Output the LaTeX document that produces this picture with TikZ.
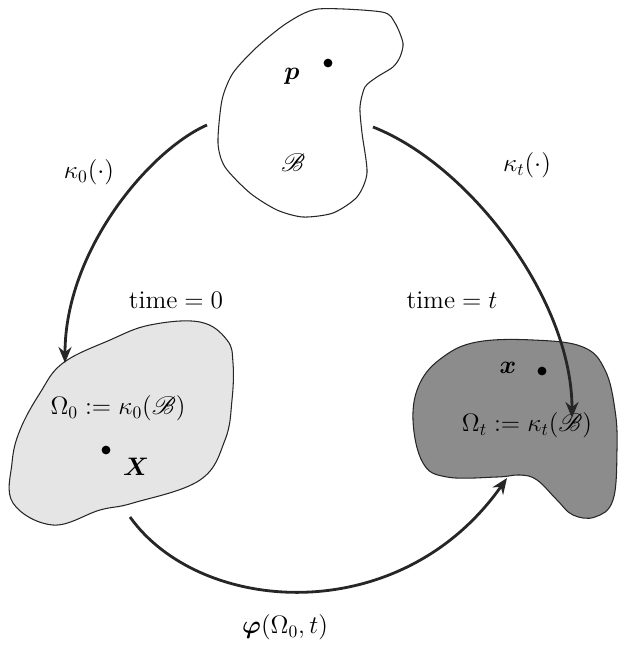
\documentclass[tikz,border=0pt]{standalone}
\usepackage{amsmath,amssymb,bm}
\usepackage{mathrsfs}
\usepackage{tikz}
\usetikzlibrary{arrows.meta}

\begin{document}
\begin{tikzpicture}[
  x=0.02cm, y=-0.02cm,
  every node/.style={font=\fontsize{14.5}{17}\selectfont},
  corpo/.style={draw=black!85, line width=0.6pt},
  mapa/.style={-{Stealth[length=3.2mm, width=2.6mm]}, line width=1.6pt, draw=black!85},
  ponto/.style={circle, fill=black, inner sep=0pt, minimum size=5pt}
]
  \useasboundingbox (0,0) rectangle (623,647);

  % corpo B
  \draw[corpo, fill=white] plot[smooth cycle, tension=0.45] coordinates {
    (318,9) (382,12) (395,23) (403,43) (400,57) (393,67) (377,77) (365,87)
    (360,107) (362,133) (367,173) (357,197) (333,213) (303,217) (277,210)
    (250,193) (225,167) (218,143) (222,100) (233,73) (257,47) (287,23)};
  % configuracao inicial
  \draw[corpo, fill=black!10] plot[smooth cycle, tension=0.65] coordinates {
    (150,325) (200,322) (227,340) (233,363) (232,400) (225,440) (200,480)
    (133,503) (100,510) (53,525) (13,503) (12,463) (20,430) (40,393)
    (63,363) (110,340)};
  % configuracao atual
  \draw[corpo, fill=black!45] plot[smooth cycle, tension=0.65] coordinates {
    (413,420) (420,383) (443,357) (477,342) (533,340) (583,347) (605,370)
    (615,410) (617,450) (613,500) (595,517) (573,515) (557,500) (537,480)
    (520,475) (497,477) (447,477) (423,463)};

  \node[ponto] (pp) at (328,63) {};
  \node (plab) at (292,76) {$\boldsymbol{p}$};
  \node (blab) at (293,163) {$\mathscr{B}$};

  \node[ponto] (pX) at (106,450) {};
  \node (Xlab) at (136,467) {$\boldsymbol{X}$};
  \node (omega0) at (118,408) {$\Omega_0 := \kappa_0(\mathscr{B})$};

  \node[ponto] (px) at (542,371) {};
  \node (xlab) at (508,368) {$\boldsymbol{x}$};
  \node (omegat) at (527,425) {$\Omega_t := \kappa_t(\mathscr{B})$};

  \node (t0) at (176,300) {$\text{time} = 0$};
  \node (tt) at (452,300) {$\text{time} = t$};
  \node (k0) at (89,172) {$\kappa_0(\cdot)$};
  \node (kt) at (527,165) {$\kappa_t(\cdot)$};
  \node (phi) at (285,627) {$\boldsymbol{\varphi}(\Omega_0, t)$};

  % pontas das setas
  \coordinate (k0ini) at (207,125);
  \coordinate (k0fim) at (65,363);
  \coordinate (ktini) at (373,127);
  \coordinate (ktfim) at (572,418);
  \coordinate (phiini) at (130,517);
  \coordinate (phifim) at (507,478);

  \draw[mapa] (k0ini) .. controls (150,150) and (65,250) .. (k0fim);
  \draw[mapa] (ktini) .. controls (470,165) and (572,300) .. (ktfim);
  \draw[mapa] (phiini) .. controls (200,615) and (400,630) .. (phifim);
\end{tikzpicture}
\end{document}
